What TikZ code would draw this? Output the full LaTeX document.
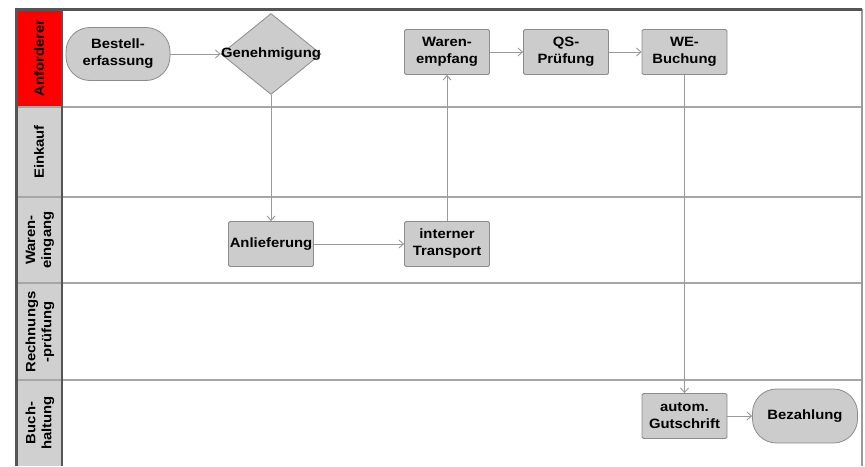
\documentclass[tikz,border=0pt]{standalone}
\usepackage{fontspec}
\setmainfont{Liberation Sans}
\newfontfamily\boxfont[FakeStretch=1.1]{Liberation Sans}
\usetikzlibrary{arrows.meta,shapes.geometric}
\definecolor{boxfill}{HTML}{CCCCCC}
\definecolor{boxline}{HTML}{8C8C8C}
\definecolor{headfill}{HTML}{D0D0D0}
\definecolor{sepline}{HTML}{A6A6A6}
\definecolor{frameline}{HTML}{555555}
\definecolor{flowline}{HTML}{9A9A9A}
\begin{document}
\begin{tikzpicture}[x=1pt,y=-1pt,
  lbl/.style={font=\boxfont\fontsize{13.5}{17}\selectfont\bfseries, align=center, text=black},
  taskbox/.style={lbl, rectangle, rounded corners=1.5pt, draw=boxline, line width=0.8pt, fill=boxfill,
    minimum width=85pt, minimum height=45pt, inner sep=1pt},
  terminal/.style={lbl, rectangle, rounded corners=24pt, draw=boxline, line width=0.8pt, fill=boxfill,
    minimum width=105pt, minimum height=54pt, inner sep=1pt},
  decision/.style={lbl, diamond, draw=boxline, line width=0.8pt, fill=boxfill,
    minimum width=100pt, minimum height=81pt, inner sep=0pt},
  lanetext/.style={font=\boxfont\fontsize{13.5}{16}\selectfont\bfseries, align=center, rotate=90, text=black},
  flow/.style={draw=flowline, line width=0.9pt, -{Straight Barb[length=4.5pt,width=8pt]}}
]
\useasboundingbox (0,0) rectangle (865,466);
\fill[white] (0,0) rectangle (865,466);

% lane header cells
\fill[red] (16,9) rectangle (62,107);
\fill[headfill] (16,107) rectangle (62,466);

% lane separators
\foreach \yy in {107,197,283,380}
  \draw[sepline, line width=2.4pt] (16,\yy) -- (862,\yy);

% outer frame and header column edge
\draw[flowline, line width=1.2pt] (862,9) -- (862,466);
\draw[frameline, line width=1.2pt] (62,9) -- (62,466);
\draw[frameline, line width=3pt] (16,9) -- (862,9);
\draw[frameline, line width=3pt] (16,7.5) -- (16,466);

% lane titles
\node[lanetext] (l1) at (39,58) {Anforderer};
\node[lanetext] (l2) at (39,152) {Einkauf};
\node[lanetext] (l3) at (40,240) {Waren-\\eingang};
\node[lanetext] (l4) at (40,332) {Rechnungs\\-prüfung};
\node[lanetext] (l5) at (40,423) {Buch-\\haltung};

% process steps
\node[terminal, minimum width=104pt, minimum height=53pt] (best) at (118,54) {Bestell-\\erfassung};
\node[decision] (gen) at (271,54) {\makebox[0pt]{Genehmigung}};
\node[taskbox] (wemp) at (447,52) {Waren-\\empfang};
\node[taskbox] (qs) at (566,52) {QS-\\Prüfung};
\node[taskbox] (web) at (684.5,52) {WE-\\Buchung};
\node[taskbox] (anl) at (271,244) {Anlieferung};
\node[taskbox] (itr) at (447,244) {interner\\Transport};
\node[taskbox] (gut) at (684.5,416) {autom.\\Gutschrift};
\node[terminal] (bez) at (805,416) {Bezahlung};

% flow
\draw[flow] (best) -- (gen);
\draw[flow] (gen.south) -- (anl.north);
\draw[flow] (anl) -- (itr);
\draw[flow] (itr.north) -- (wemp.south);
\draw[flow] (wemp) -- (qs);
\draw[flow] (qs) -- (web);
\draw[flow] (web.south) -- (gut.north);
\draw[flow] (gut) -- (bez);
\end{tikzpicture}
\end{document}
